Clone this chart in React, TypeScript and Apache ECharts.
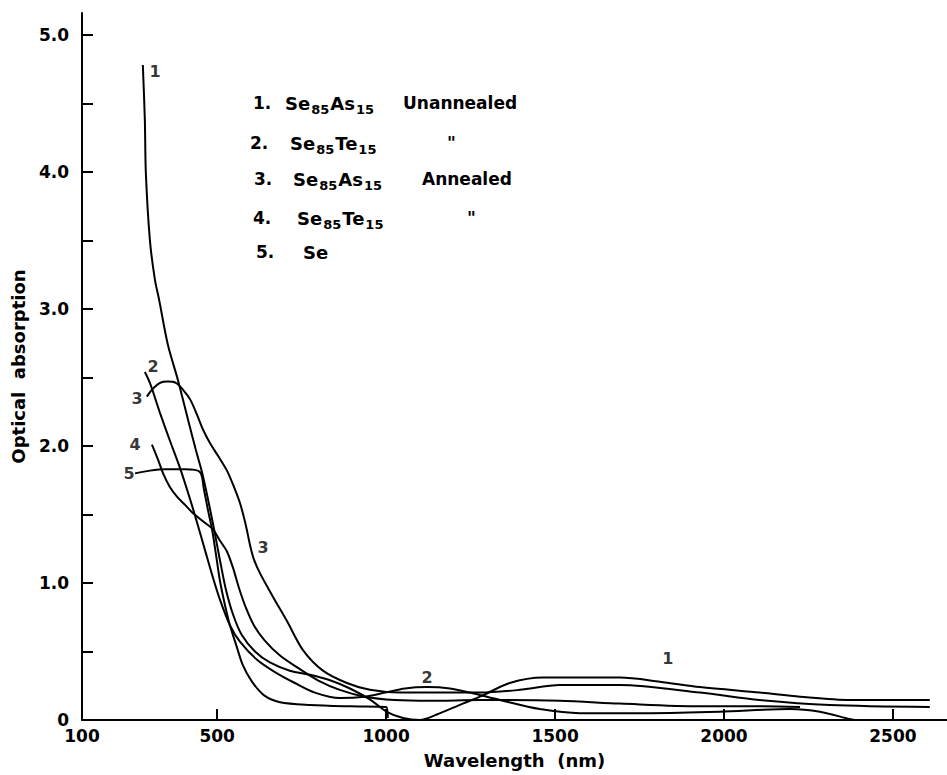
import React, { useEffect, useRef } from "react";
import * as echarts from "echarts";

// ---- data (wavelength nm, optical absorption) ----
const curve1 = [[280,4.78],[286,4.38],[289,3.99],[301,3.50],[316,3.21],[328,3.07],[354,2.74],[384,2.48],[414,2.19],[437,1.97],[455,1.81],[473,1.61],[491,1.39],[508,1.17],[526,0.95],[547,0.77],[573,0.62],[612,0.50],[656,0.42],[715,0.36],[775,0.33],[834,0.29],[893,0.23],[952,0.15],[1002,0.06],[1050,0.015],[1100,0.0],[1150,0.04],[1227,0.12],[1278,0.17],[1366,0.27],[1464,0.31],[1574,0.31],[1692,0.31],[1810,0.28],[1929,0.24],[2106,0.20],[2225,0.17],[2372,0.146],[2609,0.146]];
const curve2 = [[286,2.54],[301,2.46],[331,2.24],[360,2.04],[390,1.84],[420,1.61],[443,1.42],[464,1.24],[485,1.06],[508,0.88],[538,0.69],[568,0.57],[618,0.44],[671,0.35],[730,0.27],[789,0.20],[863,0.16],[937,0.17],[997,0.20],[1056,0.23],[1121,0.24],[1189,0.23],[1248,0.20],[1337,0.146],[1455,0.08],[1574,0.05],[1781,0.05],[1988,0.06],[2195,0.08],[2284,0.06],[2372,0.007],[2387,0]];
const curve3 = [[292,2.36],[307,2.41],[331,2.46],[354,2.47],[378,2.46],[399,2.41],[420,2.34],[440,2.23],[458,2.12],[479,2.02],[502,1.93],[529,1.82],[550,1.70],[568,1.58],[585,1.42],[597,1.28],[609,1.17],[627,1.07],[665,0.90],[707,0.72],[754,0.51],[813,0.36],[884,0.27],[952,0.22],[1041,0.20],[1159,0.20],[1278,0.20],[1396,0.22],[1514,0.255],[1692,0.255],[1929,0.20],[2106,0.146],[2313,0.11],[2609,0.095]];
const curve4 = [[307,2.01],[325,1.90],[340,1.80],[360,1.70],[381,1.63],[405,1.57],[428,1.51],[458,1.45],[488,1.39],[508,1.31],[529,1.23],[547,1.11],[565,0.96],[585,0.82],[609,0.69],[641,0.58],[686,0.47],[739,0.38],[798,0.29],[863,0.22],[937,0.17],[1026,0.146],[1130,0.14],[1278,0.146],[1514,0.14],[1692,0.12],[1929,0.10],[2106,0.10],[2225,0.095]];
const curve5 = [[257,1.80],[301,1.82],[346,1.83],[405,1.83],[449,1.81],[461,1.68],[473,1.53],[485,1.39],[497,1.20],[508,1.02],[523,0.84],[538,0.69],[556,0.55],[576,0.40],[603,0.28],[639,0.18],[686,0.13],[775,0.11],[893,0.10],[1000,0.095],[1005,0.015]];

// curve number labels placed at data coordinates
const curveLabels = [[316,4.73,"1"],[310,2.58,"2"],[263,2.35,"3"],[257,2.01,"4"],[239,1.80,"5"],[636,1.26,"3"],[1121,0.31,"2"],[1834,0.45,"1"]];

const xTickValues = [500, 1000, 1500, 2000, 2500];
const xLabelValues = [100, 500, 1000, 1500, 2000, 2500];
const yTickValues = [0.5, 1, 1.5, 2, 2.5, 3, 3.5, 4, 4.5, 5];
const yLabelValues = [0, 1, 2, 3, 4, 5];

// legend rows: number, formula pieces [text, isSubscript], note
const legendNums = ["1.", "2.", "3.", "4.", "5."];
const legendFormulas: [string, boolean][][] = [
  [["Se", false], ["85", true], ["As", false], ["15", true]],
  [["Se", false], ["85", true], ["Te", false], ["15", true]],
  [["Se", false], ["85", true], ["As", false], ["15", true]],
  [["Se", false], ["85", true], ["Te", false], ["15", true]],
  [["Se", false]],
];
const legendNotes = ["Unannealed", "\"", "Annealed", "\"", ""];

// layout (pixel positions of legend rows)
const legendRowY = [103, 143, 179, 218, 252];
const legendNumX = [253, 250, 254, 253, 256];
const legendFormulaX = [285, 290, 293, 297, 303];
const legendNoteX = [403, 447, 422, 467, 0];

const FONT = '"DejaVu Sans", sans-serif';
const MAIN_FONT = `bold 18px ${FONT}`;
const SUB_FONT = `bold 13px ${FONT}`;

function measure(text: string, font: string): number {
  const c = document.createElement("canvas").getContext("2d");
  if (!c) return text.length * 10;
  c.font = font;
  return c.measureText(text).width;
}

export default function App() {
  const ref = useRef<HTMLDivElement>(null);
  useEffect(() => {
    if (!ref.current) return;
    const chart = echarts.init(ref.current, null, { renderer: "svg" });

    const txt = (t: string, x: number, y: number, font: string) => ({
      type: "text",
      x,
      y,
      style: { text: t, fill: "#000", font, align: "left", verticalAlign: "middle" },
    });

    const graphicChildren: any[] = [];
    legendNums.forEach((num, ri) => {
      const y = legendRowY[ri];
      graphicChildren.push(txt(num, legendNumX[ri], y, `bold 17px ${FONT}`));
      let x = legendFormulaX[ri];
      legendFormulas[ri].forEach(([t, sub]) => {
        const f = sub ? SUB_FONT : MAIN_FONT;
        graphicChildren.push(txt(t, x, y + (sub ? 6 : 0), f));
        x += measure(t, f) + 1;
      });
      if (legendNotes[ri]) graphicChildren.push(txt(legendNotes[ri], legendNoteX[ri], y, `bold 17px ${FONT}`));
    });

    const lineStyle = { color: "#000", width: 2 };
    const mkLine = (name: string, data: number[][]) => ({
      name,
      type: "line",
      data,
      smooth: 0.3,
      showSymbol: false,
      symbol: "none",
      lineStyle,
      clip: false,
    });

    chart.setOption({
      animation: false,
      backgroundColor: "#fff",
      grid: { left: 82, right: 0, top: 13, bottom: 55 },
      xAxis: {
        type: "value",
        min: 100,
        max: 2660,
        name: "Wavelength  (nm)",
        nameLocation: "middle",
        nameGap: 31,
        nameTextStyle: { color: "#000", fontSize: 18, fontWeight: "bold", fontFamily: FONT },
        axisLine: { show: true, onZero: false, lineStyle: { color: "#000", width: 2 } },
        axisTick: { show: true, inside: true, length: 11, customValues: xTickValues, lineStyle: { color: "#000", width: 2 } },
        axisLabel: {
          customValues: xLabelValues,
          margin: 7,
          color: "#000",
          fontSize: 17,
          fontWeight: "bold",
          fontFamily: FONT,
          formatter: (v: number) => String(v),
        },
        splitLine: { show: false },
      },
      yAxis: {
        type: "value",
        min: 0,
        max: 5.16,
        name: "Optical  absorption",
        nameLocation: "middle",
        nameGap: 53,
        nameRotate: 90,
        nameTextStyle: { color: "#000", fontSize: 18, fontWeight: "bold", fontFamily: FONT },
        axisLine: { show: true, onZero: false, lineStyle: { color: "#000", width: 2 } },
        axisTick: { show: true, inside: true, length: 11, customValues: yTickValues, lineStyle: { color: "#000", width: 2 } },
        axisLabel: {
          customValues: yLabelValues,
          margin: 13,
          color: "#000",
          fontSize: 17,
          fontWeight: "bold",
          fontFamily: FONT,
          formatter: (v: number) => (v === 0 ? "0" : v.toFixed(1)),
        },
        splitLine: { show: false },
      },
      series: [
        mkLine("1", curve1),
        mkLine("2", curve2),
        mkLine("3", curve3),
        mkLine("4", curve4),
        mkLine("5", curve5),
        {
          type: "scatter",
          data: curveLabels,
          symbolSize: 0,
          silent: true,
          label: {
            show: true,
            position: "inside",
            formatter: (p: any) => p.data[2],
            color: "#000",
            fontSize: 16,
            fontWeight: "bold",
            fontFamily: FONT,
          },
        },
      ],
      graphic: [{ type: "group", children: graphicChildren }],
    });
    return () => chart.dispose();
  }, []);
  return <div ref={ref} style={{ position: "fixed", left: 0, top: 0, width: 947, height: 775 }} />;
}
